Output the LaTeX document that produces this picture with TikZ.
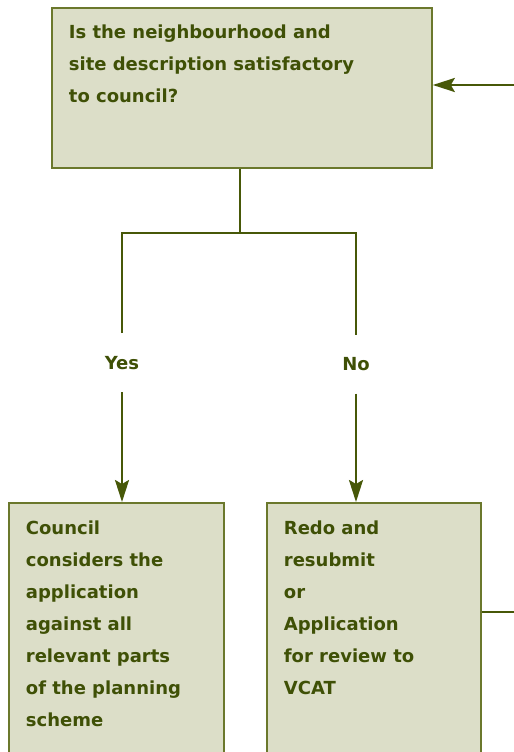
\documentclass[tikz,border=0pt]{standalone}
\usepackage{fontspec}
\setmainfont{DejaVu Sans}
\usetikzlibrary{arrows.meta}
\definecolor{boxfill}{HTML}{DCDEC8}
\definecolor{boxline}{HTML}{6B782C}
\definecolor{ink}{HTML}{475808}
\definecolor{txt}{HTML}{3F5006}
\newcommand{\flowtext}[4]{\vbox to #1{\hsize=#2\relax\parindent=0pt\parskip=0pt\baselineskip=32bp\noindent\rule{0pt}{#3}#4\par\vfil}}
\begin{document}
\begin{tikzpicture}[x=1bp,y=-1bp,
  box/.style={draw=boxline,fill=boxfill,line width=1.8bp,inner xsep=17bp,inner ysep=0pt,anchor=north west,text=txt,font=\fontsize{18bp}{32bp}\selectfont\bfseries},
  conn/.style={draw=ink,line width=2.4bp},
  arr/.style={conn,-{Stealth[length=22bp,width=14bp,inset=4bp]}},
  lbl/.style={inner sep=0pt,text height=13bp,text depth=0pt,outer ysep=23bp,text=txt,font=\fontsize{18bp}{32bp}\selectfont\bfseries}]
\useasboundingbox (0,0) rectangle (514,752);
\clip (0,0) rectangle (514,752);
\node[box] (q) at (51,7) {\flowtext{160bp}{346bp}{31bp}{Is the neighbourhood and\par site description satisfactory\par to council?}};
\node[box] (lb) at (8,502) {\flowtext{270bp}{181bp}{32bp}{Council\par considers the\par application\par against all\par relevant parts\par of the planning\par scheme}};
\node[box] (rb) at (266,502) {\flowtext{270bp}{180bp}{32bp}{Redo and\par resubmit\par or\par Application\par for review to\par VCAT}};
\node[lbl] (yes) at (122,362.5) {Yes};
\node[lbl] (no) at (356,364) {No};
\coordinate (jl) at (122,233);
\coordinate (jr) at (356,233);
\coordinate (rin) at (514,85);
\coordinate (rout) at (514,612);
\coordinate (stem) at ([xshift=-2bp]q.south);
\draw[conn] (stem) -- (stem |- jl);
\draw[conn] (yes.north) -- (jl) -- (jr) -- (no.north);
\draw[arr] (yes.south) -- (yes.south |- lb.north);
\draw[arr] (no.south) -- (no.south |- rb.north);
\draw[arr] (rin) -- (rin -| q.east);
\draw[conn] (rout -| rb.east) -- (rout);
\end{tikzpicture}
\end{document}
